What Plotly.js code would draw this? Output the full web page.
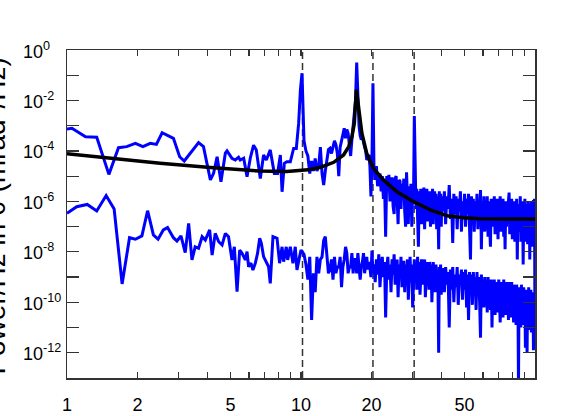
<!DOCTYPE html>
<html>
<head>
<meta charset="utf-8">
<script src="https://cdn.plot.ly/plotly-3.0.1.min.js"></script>
<style>
html,body{margin:0;padding:0;background:#fff;}
#chart{width:565px;height:416px;}
</style>
</head>
<body>
<div id="chart"></div>
<script>
// ---- Data (power values stored as log10 of mrad^2/Hz) ----
const upperLowFreq = [1.00,1.05,1.20,1.34,1.51,1.66,1.80,1.96,2.11,2.27,2.41,2.55,2.85,3.03,3.17,3.42,3.65,3.83,4.10,4.23,4.38,4.55,4.75,4.83,5.07,5.24,5.41,5.50,5.69,5.88,6.07,6.27,6.44,6.70,6.92,7.11,7.39,7.69,7.94,8.16,8.30,8.49,8.71,9.00,9.30,9.55,9.77,9.94,10.1];
const upperLowLog = [-3.13,-3.10,-3.44,-3.46,-4.93,-3.87,-3.83,-3.70,-3.83,-3.70,-3.74,-3.28,-3.50,-4.23,-4.40,-4.03,-3.67,-3.83,-5.15,-4.89,-4.23,-5.22,-4.09,-4.00,-4.29,-4.36,-4.25,-4.36,-4.29,-5.02,-4.29,-3.77,-3.96,-5.09,-4.16,-4.36,-3.96,-4.89,-4.89,-4.16,-5.62,-4.49,-4.43,-4.43,-3.90,-3.90,-2.91,-1.59,-0.92];

const lowerLowFreq = [1.00,1.10,1.22,1.34,1.47,1.59,1.72,1.85,1.96,2.09,2.21,2.34,2.45,2.58,2.69,2.85,2.95,3.07,3.20,3.31,3.42,3.53,3.65,3.78,3.90,4.07,4.17,4.30,4.45,4.60,4.75,4.90,5.07,5.19,5.33,5.47,5.60,5.78,5.88,5.97,6.11,6.23,6.38,6.52,6.66,6.77,6.92,7.11,7.27,7.39,7.59,7.90,8.10,8.30,8.43,8.65,8.77,9.00,9.24,9.45,9.61,9.86,10.0];
const lowerLowLog = [-6.47,-6.21,-6.12,-6.38,-5.77,-6.30,-9.27,-7.44,-7.50,-7.37,-6.37,-7.33,-7.50,-7.13,-7.04,-7.44,-7.57,-7.37,-8.03,-6.87,-8.32,-7.80,-7.86,-7.40,-7.53,-7.13,-8.13,-7.27,-7.60,-7.73,-7.27,-7.40,-8.32,-7.80,-9.58,-7.93,-8.06,-8.32,-7.99,-8.59,-8.45,-8.72,-8.45,-8.06,-7.46,-7.66,-8.19,-8.45,-8.59,-9.25,-7.40,-7.46,-8.45,-7.80,-8.39,-7.80,-8.32,-7.80,-8.45,-7.80,-8.72,-8.19,-7.93];

// shared frequency bins above 10 Hz
const gridFreqA = [10.3,10.5,10.7,10.9,11.1,11.3,11.5,11.7,11.9,12.1,
  12.3,12.5,12.7,12.9,13.1,13.3,13.5,13.7,13.9,14.1,
  14.3,14.5,14.7,14.9,15.1,15.3,15.5,15.7,15.9,16.1,
  16.3,16.5,16.7,16.9,17.1,17.3,17.5,17.7,17.9,18.1,
  18.3,18.5,18.7,18.9,19.1,19.3,19.5,19.7,19.9,20.1,
  20.3];
const gridFreqB = [20.5,20.75,21,21.25,21.5,21.75,22,22.25,22.5,22.75,
  23,23.25,23.5,23.75,24,24.25,24.5,24.75,25,25.25,
  25.5,25.75,26,26.25,26.5,26.75,27,27.25,27.5,27.75,
  28,28.25,28.5,28.75,29,29.25,29.5,29.75,30,30.25,
  30.5,30.75,31,31.25,31.5,31.75,32,32.25,32.5,32.75,
  33,33.25,33.5,33.75,34,34.25,34.5,34.75,35,35.25,
  35.5,35.75,36,36.25,36.5,36.75,37,37.25,37.5,37.75,
  38,38.25,38.5,38.75,39,39.25,39.5,39.75,40];
const gridFreqC = [40.5,41,41.5,42,42.5,43,43.5,44,44.5,45,
  45.5,46,46.5,47,47.5,48,48.5,49,49.5,50,
  50.5,51,51.5,52,52.5,53,53.5,54,54.5,55,
  55.5,56,56.5,57,57.5,58,58.5,59,59.5,60,
  60.5,61,61.5,62,62.5,63,63.5,64,64.5,65,
  65.5,66,66.5,67,67.5,68,68.5,69,69.5,70,
  70.5,71,71.5,72,72.5,73,73.5,74,74.5,75,
  75.5,76,76.5,77,77.5,78,78.5,79,79.5,80,
  80.5,81,81.5,82,82.5,83,83.5,84,84.5,85,
  85.5,86,86.5,87,87.5,88,88.5,89,89.5,90,
  90.5,91,91.5,92,92.5,93,93.5,94,94.5,95,
  95.5,96,96.5,97,97.5,98,98.5,99,99.5,100];

const upperLogA = [-3.6,-4.0,-4.2,-4.9,-4.4,-4.8,-4.3,-4.8,-4.6,-3.85,
  -4.9,-5.35,-4.8,-4.25,-3.95,-3.9,-4.1,-3.85,-3.6,-3.75,
  -4.1,-5.0,-3.85,-3.6,-3.3,-3.1,-3.5,-3.15,-3.3,-3.8,
  -4.2,-3.55,-3.0,-2.6,-2.0,-0.5,-2.2,-3.0,-3.4,-3.55,
  -3.45,-3.6,-3.85,-4.0,-4.35,-4.3,-4.15,-4.6,-5.8,-4.4,
  -1.32];
const upperLogB = [-4.6,-5.15,-4.6,-5.4,-5.15,-4.9,-5.6,-5.0,-5.9,-5.2,
  -7.4,-5.0,-5.5,-4.95,-6.0,-5.3,-5.05,-6.2,-6.5,-5.1,
  -5.0,-5.9,-6.9,-5.15,-5.2,-6.3,-5.3,-5.8,-5.1,-6.4,
  -7.0,-4.85,-5.6,-6.9,-5.4,-6.1,-5.3,-7.0,-5.6,-6.0,
  -2.62,-5.9,-6.3,-5.5,-6.6,-7.8,-5.6,-6.2,-5.5,-6.9,
  -5.7,-6.4,-5.45,-7.1,-5.8,-6.3,-5.5,-6.8,-5.9,-6.5,
  -5.6,-7.0,-5.7,-6.2,-5.5,-6.9,-6.0,-5.6,-6.6,-5.7,
  -7.1,-5.8,-6.4,-7.9,-5.6,-6.5,-5.7,-7.0,-5.8];
const upperLogC = [-6.4,-5.6,-6.9,-5.8,-6.3,-5.35,-6.7,-5.9,-7.65,-5.7,
  -6.5,-5.8,-7.1,-5.9,-6.4,-5.6,-7.2,-6.0,-6.6,-5.7,
  -7.0,-5.9,-6.5,-5.7,-6.9,-8.3,-5.8,-6.6,-5.9,-7.2,
  -6.0,-6.7,-5.7,-7.1,-6.1,-6.6,-5.55,-7.9,-6.0,-6.8,
  -5.8,-7.2,-6.1,-6.6,-5.8,-7.4,-6.0,-6.8,-7.8,-5.9,
  -7.0,-6.2,-6.7,-5.8,-7.3,-6.1,-6.9,-5.9,-7.5,-6.2,
  -6.7,-5.8,-7.2,-6.3,-6.9,-5.9,-7.4,-6.2,-7.9,-6.0,
  -7.0,-6.3,-6.8,-6.0,-5.65,-7.3,-6.2,-7.0,-5.9,-7.5,
  -6.3,-6.9,-6.0,-7.6,-6.2,-7.0,-5.9,-8.3,-6.1,-7.2,
  -6.3,-7.0,-5.8,-7.6,-6.2,-7.1,-6.0,-8.5,-6.3,-7.2,
  -5.9,-7.6,-6.1,-7.0,-6.2,-7.7,-6.0,-7.3,-6.3,-8.3,
  -6.1,-7.4,-6.0,-7.8,-6.2,-7.2,-5.95,-7.6,-5.9,-11.3];

const lowerLogA = [-8.1,-8.5,-9.1,-8.2,-10.7,-8.85,-9.6,-8.2,-8.85,-8.3,
  -8.2,-7.55,-7.4,-8.3,-8.85,-8.7,-8.3,-9.1,-8.2,-8.85,
  -8.6,-8.6,-8.2,-9.4,-8.6,-8.3,-7.8,-8.05,-8.85,-8.6,
  -8.6,-8.05,-8.85,-8.3,-8.3,-8.85,-8.05,-8.6,-9.1,-8.6,
  -8.4,-8.05,-8.85,-8.5,-8.2,-8.7,-8.4,-8.6,-9.0,-7.95,
  -8.85];
const lowerLogB = [-8.5,-9.2,-8.3,-8.9,-8.1,-9.4,-8.6,-8.2,-9.0,-8.4,
  -10.6,-8.7,-8.2,-9.1,-8.5,-9.6,-8.3,-8.9,-8.1,-9.3,
  -8.6,-8.3,-9.8,-8.5,-9.0,-8.2,-9.4,-8.6,-8.35,-9.6,
  -8.5,-9.0,-8.3,-9.9,-8.6,-8.2,-9.2,-8.5,-10.2,-8.6,
  -8.3,-9.1,-8.5,-9.5,-8.2,-8.9,-8.4,-9.7,-8.6,-8.3,
  -9.3,-8.5,-9.0,-8.3,-9.8,-8.6,-8.4,-9.2,-8.6,-9.5,
  -8.4,-9.0,-8.5,-10.0,-8.7,-8.4,-9.3,-8.6,-9.6,-8.5,
  -9.1,-8.7,-9.4,-12.0,-8.6,-9.2,-8.5,-9.7,-8.7];
const lowerLogC = [-8.7,-9.6,-8.6,-9.3,-8.8,-11.0,-8.7,-9.5,-8.6,-10.0,
  -8.9,-9.4,-8.6,-10.1,-8.9,-9.3,-8.7,-9.9,-8.8,-9.5,
  -8.7,-10.2,-8.9,-10.7,-8.8,-9.6,-8.9,-10.1,-8.8,-9.5,
  -9.0,-10.3,-8.8,-9.7,-9.0,-10.0,-11.4,-8.9,-9.8,-9.1,
  -10.2,-9.0,-9.7,-9.2,-10.4,-9.0,-9.8,-9.2,-10.3,-9.1,
  -11.0,-9.3,-9.9,-9.1,-10.5,-9.2,-9.8,-9.3,-10.4,-9.1,
  -9.9,-10.8,-9.2,-10.0,-9.3,-10.6,-9.1,-9.9,-9.4,-10.5,
  -9.2,-10.1,-9.3,-10.7,-9.2,-9.9,-9.4,-10.6,-9.2,-10.2,
  -9.4,-10.8,-9.3,-10.1,-9.5,-10.9,-9.3,-10.3,-9.5,-13.3,
  -9.4,-10.4,-9.6,-11.0,-9.3,-10.2,-9.6,-10.9,-9.4,-10.4,
  -9.6,-11.8,-9.5,-10.3,-12.0,-9.6,-10.6,-9.4,-11.1,-9.7,
  -10.4,-9.5,-11.2,-9.7,-10.5,-9.6,-11.9,-9.7,-10.6,-10.0];

// fitted resonance model (black curve)
const fitFreq = [1,1.53,2.5,4.1,6.7,8.7,10.7,12.1,13.8,15.2,16.0,16.5,16.9,17.25,17.6,18.2,19.1,20.4,22.5,25.7,30.3,35.7,42.1,49.5,58.4,100];
const fitLog  = [-4.11,-4.29,-4.49,-4.66,-4.80,-4.82,-4.75,-4.65,-4.45,-4.16,-3.83,-3.44,-2.9,-1.57,-2.25,-3.3,-4.1,-4.69,-5.15,-5.62,-6.01,-6.34,-6.57,-6.65,-6.69,-6.70];

// harmonic marker frequencies (dashed lines)
const harmonicFreqs = [10.15, 20.3, 30.45];

// axis ticks
const xTickVals = [1,2,3,4,5,6,7,8,9,10,20,30,40,50,60,70,80,90,100];
const xLabelled = [1,2,5,10,20,50];
const yTickExps = [0,-1,-2,-3,-4,-5,-6,-7,-8,-9,-10,-11,-12,-13];
const yRangeExp = [-13, 0];

// ---- build ----
const pow10 = a => a.map(v => Math.pow(10, v));
const upperF = upperLowFreq.concat(gridFreqA, gridFreqB, gridFreqC);
const upperP = pow10(upperLowLog.concat(upperLogA, upperLogB, upperLogC));
const lowerF = lowerLowFreq.concat(gridFreqA, gridFreqB, gridFreqC);
const lowerP = pow10(lowerLowLog.concat(lowerLogA, lowerLogB, lowerLogC));

const FONT = 'Liberation Sans, Arial, sans-serif';
const traces = [];
harmonicFreqs.forEach(f => {
  traces.push({x:[f,f], y:[Math.pow(10,yRangeExp[0]), Math.pow(10,yRangeExp[1])], mode:'lines',
    line:{color:'#333', width:1.5, dash:'7px,4px'}, hoverinfo:'skip', showlegend:false});
});
traces.push({x:lowerF, y:lowerP, mode:'lines', line:{color:'#0000ff', width:3}, showlegend:false});
traces.push({x:upperF, y:upperP, mode:'lines', line:{color:'#0000ff', width:3}, showlegend:false});
traces.push({x:fitFreq, y:pow10(fitLog), mode:'lines', line:{color:'#000', width:3.5}, showlegend:false});

const L = 67, R = 30, T = 50, B = 38, W = 565, H = 416;
const plotW = W - L - R;

const annotations = yTickExps.filter(e => e % 2 === 0).map(e => ({
  xref:'paper', yref:'y', x:(21 - L)/plotW, y:e, xanchor:'left', yanchor:'middle',
  text: e === 0 ? '10<sup>0</sup>' : '10<sup>-' + (-e) + '</sup>',
  showarrow:false, font:{family:FONT, size:18, color:'#000'}
}));
annotations.push({
  xref:'paper', yref:'paper', x:(13 - L)/plotW, y:0.492, xanchor:'right', yanchor:'middle',
  textangle:-90, text:'Power/Hz in θ (mrad<sup>2</sup>/Hz)', showarrow:false,
  font:{family:FONT, size:28, color:'#000'}
});

const layout = {
  width:W, height:H,
  margin:{l:L, r:R, t:T, b:B, pad:0},
  paper_bgcolor:'#fff', plot_bgcolor:'#fff',
  showlegend:false,
  xaxis:{
    type:'log', range:[0,2], showgrid:false, zeroline:false,
    showline:true, linecolor:'#333', linewidth:1.5, mirror:'ticks',
    ticks:'inside', ticklen:6, tickwidth:1.2, tickcolor:'#333',
    tickmode:'array', tickvals:xTickVals,
    ticktext:xTickVals.map(v => xLabelled.includes(v) ? String(v) : ''),
    ticklabelstandoff:10,
    tickfont:{family:FONT, size:18, color:'#000'}
  },
  yaxis:{
    type:'log', range:yRangeExp, showgrid:false, zeroline:false,
    showline:true, linecolor:'#333', linewidth:1.5, mirror:'ticks',
    ticks:'inside', ticklen:12, tickwidth:1.2, tickcolor:'#333',
    tickmode:'array', tickvals:yTickExps.map(e => Math.pow(10,e)),
    showticklabels:false
  },
  annotations:annotations
};

Plotly.newPlot('chart', traces, layout, {staticPlot:true, displayModeBar:false});
</script>
</body>
</html>
